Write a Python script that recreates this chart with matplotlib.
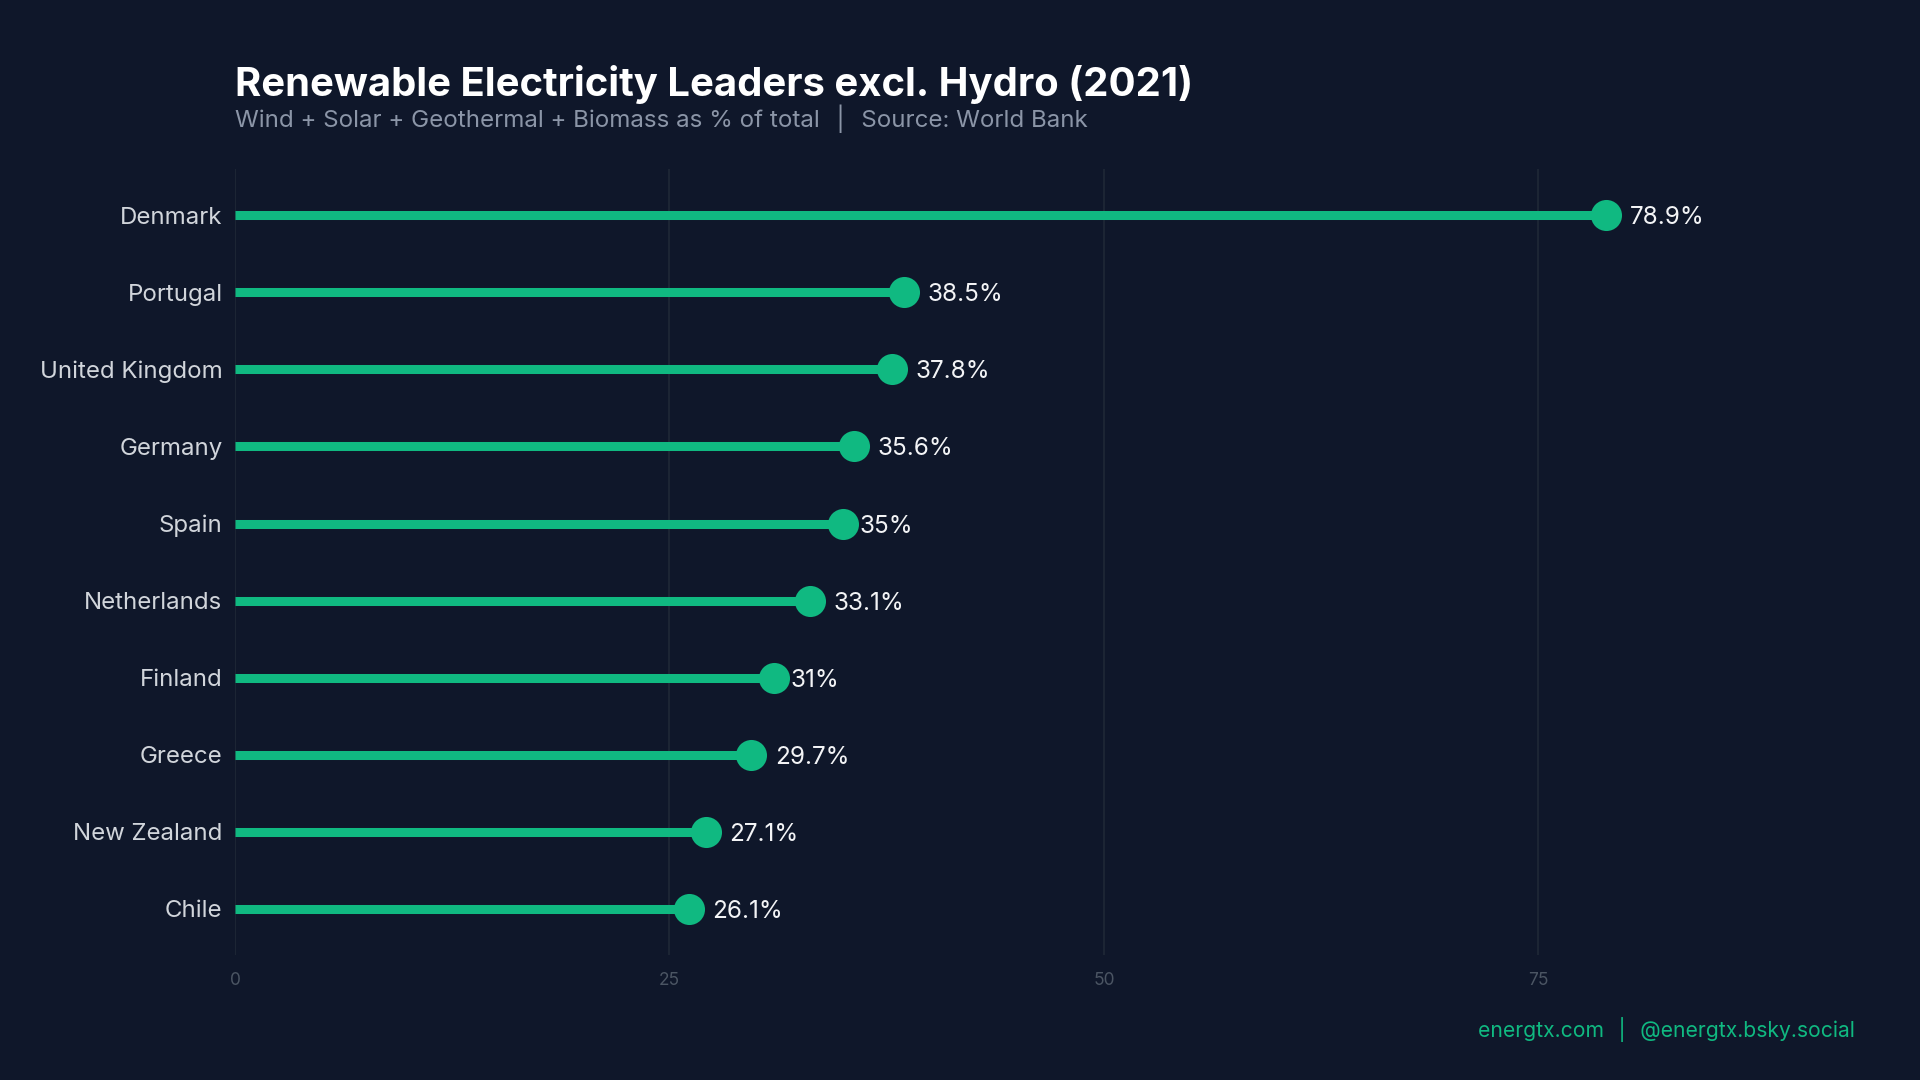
import matplotlib.pyplot as plt

# data (2021, % of total electricity)
countries = ['Denmark', 'Portugal', 'United Kingdom', 'Germany', 'Spain',
             'Netherlands', 'Finland', 'Greece', 'New Zealand', 'Chile']
share = [78.9, 38.5, 37.8, 35.6, 35.0, 33.1, 31.0, 29.7, 27.1, 26.1]
x_ticks = [0, 25, 50, 75]

bg = '#0f172a'
green = '#10b981'

plt.rcParams['font.family'] = ['Inter', 'DejaVu Sans']

fig = plt.figure(figsize=(19.2, 10.8), dpi=100, facecolor=bg)
ax = fig.add_axes([0.1224, 0.1157, 0.8436, 0.7278], facecolor=bg)

ypos = list(range(len(countries)))
ax.hlines(ypos, 0, share, color=green, lw=6.5, zorder=2)
ax.scatter(share, ypos, s=500, color=green, zorder=3, linewidths=0)

for y, v in zip(ypos, share):
    lab = f'{v:g}%'
    off = 12 if float(v).is_integer() else 17
    ax.annotate(lab, (v, y), xytext=(off, 0), textcoords='offset points',
                va='center_baseline', ha='left', color='#f3f4f6', fontsize=17.5)

ax.set_xlim(0, 93.2)
ax.set_ylim(len(countries) - 0.4, -0.6)
ax.set_yticks(ypos)
ax.set_yticklabels(countries, color='#d1d5db', fontsize=17.3)
ax.set_xticks(x_ticks)
ax.set_xticklabels([str(t) for t in x_ticks], color='#4b5563', fontsize=12.5)
ax.tick_params(axis='both', length=0)
ax.tick_params(axis='y', pad=9)
ax.tick_params(axis='x', pad=12)
ax.grid(axis='x', color='#1f2937', lw=1.2, zorder=0)
for s in ax.spines.values():
    s.set_visible(False)

fig.text(0.1224, 0.922, 'Renewable Electricity Leaders excl. Hydro (2021)',
         color='white', fontsize=28.8, fontweight='bold', va='center')
fig.text(0.1224, 0.89, 'Wind + Solar + Geothermal + Biomass as % of total  \u2502  Source: World Bank',
         color='#8b95a7', fontsize=17.4, va='center')
fig.text(0.966, 0.047, 'energtx.com  \u2502  @energtx.bsky.social',
         color=green, fontsize=15.2, ha='right', va='center')

fig.savefig('out.png', dpi=100, facecolor=bg)
